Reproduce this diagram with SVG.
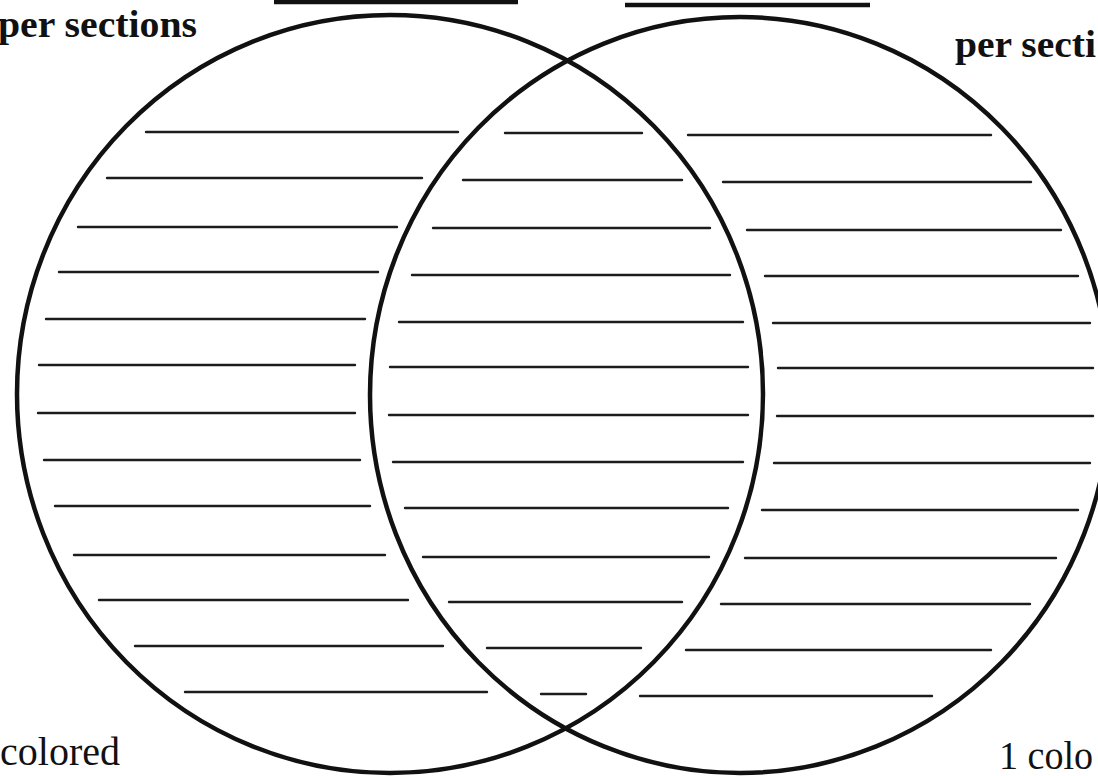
<svg xmlns="http://www.w3.org/2000/svg" width="1098" height="776" viewBox="0 0 1098 776">
<style>
.ring{fill:none;stroke:#111;stroke-width:4.5}
.ln{stroke:#1c1c1c;stroke-width:2.4;stroke-linecap:round}
.blank{stroke:#111;stroke-width:4.5}
.hd{font-family:"Liberation Serif",serif;font-weight:bold;font-size:37px;fill:#111}
.ft{font-family:"Liberation Serif",serif;font-size:40px;fill:#111}
</style>
<rect width="1098" height="776" fill="#fff"/>
<g id="title-blanks">
<line class="blank" x1="274" y1="2" x2="518" y2="2"/>
<line class="blank" x1="625" y1="5" x2="870" y2="5"/>
</g>
<g id="circle-left"><ellipse class="ring" cx="390" cy="394" rx="373" ry="379"/></g>
<g id="circle-right"><ellipse class="ring" cx="740" cy="395" rx="370" ry="378"/></g>
<g id="lines-left">
<line class="ln" x1="146" y1="132" x2="458" y2="132"/>
<line class="ln" x1="107" y1="178" x2="422" y2="178"/>
<line class="ln" x1="78" y1="227" x2="397" y2="227"/>
<line class="ln" x1="59" y1="272" x2="378" y2="272"/>
<line class="ln" x1="46" y1="319" x2="365" y2="319"/>
<line class="ln" x1="39" y1="365" x2="355" y2="365"/>
<line class="ln" x1="38" y1="413" x2="355" y2="413"/>
<line class="ln" x1="44" y1="460" x2="360" y2="460"/>
<line class="ln" x1="55" y1="506" x2="370" y2="506"/>
<line class="ln" x1="74" y1="555" x2="385" y2="555"/>
<line class="ln" x1="99" y1="600" x2="408" y2="600"/>
<line class="ln" x1="135" y1="646" x2="443" y2="646"/>
<line class="ln" x1="185" y1="692" x2="487" y2="692"/>
</g>
<g id="lines-middle">
<line class="ln" x1="505" y1="133" x2="642" y2="133"/>
<line class="ln" x1="463" y1="180" x2="682" y2="180"/>
<line class="ln" x1="433" y1="228" x2="710" y2="228"/>
<line class="ln" x1="412" y1="275" x2="730" y2="275"/>
<line class="ln" x1="399" y1="322" x2="743" y2="322"/>
<line class="ln" x1="390" y1="367" x2="748" y2="367"/>
<line class="ln" x1="389" y1="415" x2="748" y2="415"/>
<line class="ln" x1="393" y1="462" x2="743" y2="462"/>
<line class="ln" x1="405" y1="508" x2="728" y2="508"/>
<line class="ln" x1="423" y1="557" x2="709" y2="557"/>
<line class="ln" x1="449" y1="602" x2="682" y2="602"/>
<line class="ln" x1="487" y1="648" x2="641" y2="648"/>
<line class="ln" x1="541" y1="694" x2="586" y2="694"/>
</g>
<g id="lines-right">
<line class="ln" x1="688" y1="135" x2="991" y2="135"/>
<line class="ln" x1="723" y1="182" x2="1031" y2="182"/>
<line class="ln" x1="747" y1="230" x2="1061" y2="230"/>
<line class="ln" x1="765" y1="276" x2="1078" y2="276"/>
<line class="ln" x1="773" y1="323" x2="1090" y2="323"/>
<line class="ln" x1="778" y1="368" x2="1093" y2="368"/>
<line class="ln" x1="777" y1="416" x2="1093" y2="416"/>
<line class="ln" x1="774" y1="463" x2="1090" y2="463"/>
<line class="ln" x1="762" y1="510" x2="1078" y2="510"/>
<line class="ln" x1="745" y1="558" x2="1056" y2="558"/>
<line class="ln" x1="721" y1="604" x2="1030" y2="604"/>
<line class="ln" x1="686" y1="650" x2="991" y2="650"/>
<line class="ln" x1="640" y1="696" x2="932" y2="696"/>
</g>
<g id="labels">
<text class="hd" x="-2" y="37" textLength="199" lengthAdjust="spacingAndGlyphs">per sections</text>
<text class="hd" x="955" y="57" textLength="141" lengthAdjust="spacingAndGlyphs">per secti</text>
<text class="ft" x="0" y="765" textLength="120" lengthAdjust="spacingAndGlyphs">colored</text>
<text class="ft" x="999" y="769" textLength="94" lengthAdjust="spacingAndGlyphs">1 colo</text>
</g>
</svg>
